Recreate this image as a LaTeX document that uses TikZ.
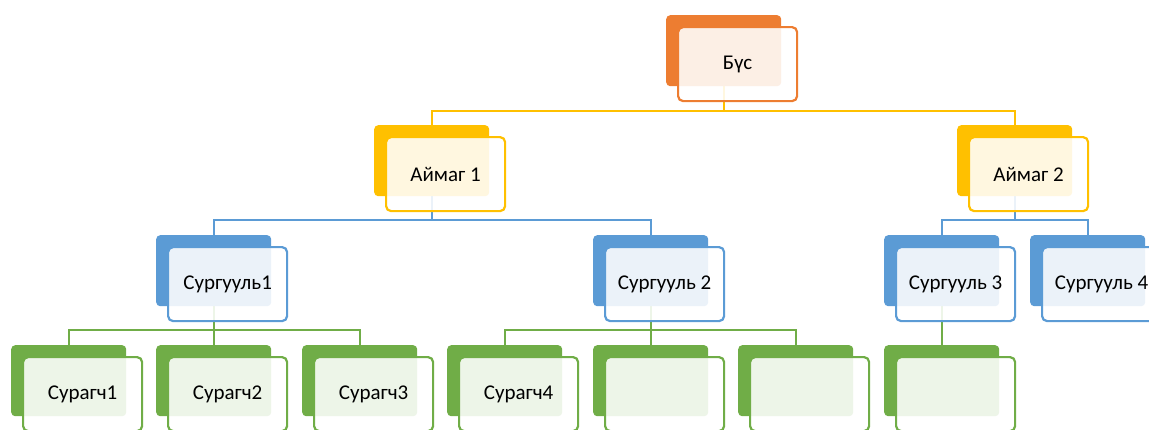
\documentclass[tikz,border=0pt]{standalone}
\usepackage{fontspec}
\setmainfont{Carlito}
\usetikzlibrary{backgrounds}
\definecolor{cOr}{HTML}{ED7D31}
\definecolor{cYe}{HTML}{FFC000}
\definecolor{cBl}{HTML}{5B9BD5}
\definecolor{cGr}{HTML}{70AD47}
\tikzset{
  backbox/.style={fill=#1, draw=none, rounded corners=4pt, minimum width=115pt, minimum height=71pt, inner sep=0pt, anchor=north west},
  frontbox/.style={draw=#1, line width=2.2pt, fill=white, fill opacity=0.88, text opacity=1, rounded corners=5pt, minimum width=119pt, minimum height=74pt, inner sep=0pt, anchor=north west, font=\fontsize{21}{24}\selectfont, text=black},
  conn/.style={draw=#1, line width=2pt}
}
\newcommand{\unitbox}[5]{%
  \node[backbox=#4] (#1b) at (#2,#3) {};
  \node[frontbox=#4] (#1) at (#2+11,#3+11) {#5};
}
\begin{document}
\begin{tikzpicture}[x=1pt,y=-1pt]
\useasboundingbox (0,0) rectangle (1149,429);
\unitbox{bus}{666}{15}{cOr}{Бүс}
\unitbox{a1}{374}{125}{cYe}{Аймаг 1}
\unitbox{a2}{957}{125}{cYe}{Аймаг 2}
\unitbox{s1}{156}{235}{cBl}{Сургууль1}
\unitbox{s2}{593}{235}{cBl}{Сургууль 2}
\unitbox{s3}{884}{235}{cBl}{Сургууль 3}
\unitbox{s4}{1030}{235}{cBl}{Сургууль 4}
\unitbox{p1}{11}{345}{cGr}{Сурагч1}
\unitbox{p2}{156}{345}{cGr}{Сурагч2}
\unitbox{p3}{302}{345}{cGr}{Сурагч3}
\unitbox{p4}{447}{345}{cGr}{Сурагч4}
\unitbox{p5}{593}{345}{cGr}{}
\unitbox{p6}{738}{345}{cGr}{}
\unitbox{p7}{884}{345}{cGr}{}
\begin{scope}[on background layer]
\foreach \c in {a1,a2} \draw[conn=cYe] (busb.south) -- ++(0,25) -| (\c b.north);
\foreach \c in {s1,s2} \draw[conn=cBl] (a1b.south) -- ++(0,24) -| (\c b.north);
\foreach \c in {s3,s4} \draw[conn=cBl] (a2b.south) -- ++(0,24) -| (\c b.north);
\foreach \c in {p1,p2,p3} \draw[conn=cGr] (s1b.south) -- ++(0,24) -| (\c b.north);
\foreach \c in {p4,p5,p6} \draw[conn=cGr] (s2b.south) -- ++(0,24) -| (\c b.north);
\draw[conn=cGr] (s3b.south) -- (p7b.north);
\end{scope}
\end{tikzpicture}
\end{document}
